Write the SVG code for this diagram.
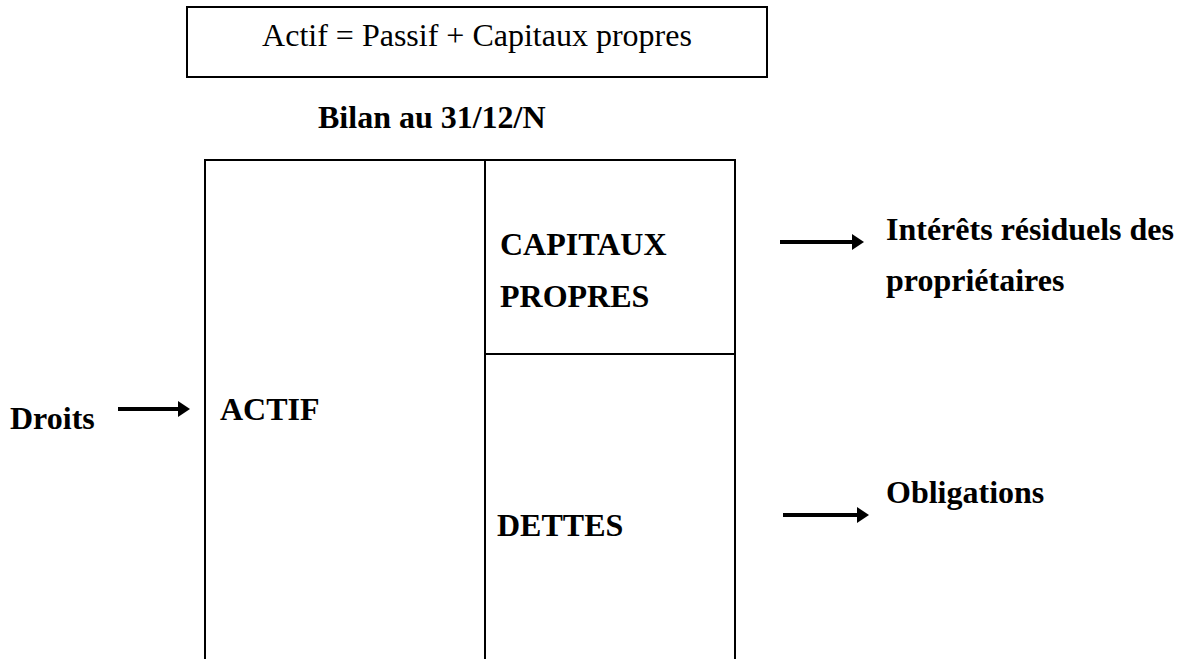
<svg xmlns="http://www.w3.org/2000/svg" width="1182" height="659" viewBox="0 0 1182 659">
<style>
.t{font-family:"Liberation Serif","Times New Roman",serif;font-size:32px;fill:#000}
.b{font-family:"Liberation Serif","Times New Roman",serif;font-weight:bold;font-size:32px;fill:#000}
.ln{stroke:#000;stroke-width:2;fill:none}
.ar{stroke:#000;stroke-width:4;fill:none;marker-end:url(#ah)}
</style>
<defs>
<marker id="ah" markerWidth="4" markerHeight="4" refX="0" refY="2" orient="auto" markerUnits="strokeWidth"><path d="M0,0 L3,2 L0,4 Z" fill="#000"/></marker>
</defs>
<rect width="1182" height="659" fill="#fff"/>
<g id="equation">
<rect class="ln" x="187" y="7" width="580" height="70"/>
<text class="t" x="477" y="46" text-anchor="middle">Actif = Passif + Capitaux propres</text>
</g>
<g id="title"><text class="b" x="318" y="128">Bilan au 31/12/N</text></g>
<g id="table">
<path class="ln" d="M205,659 V160 H735 V659 M485,160 V659 M485,354 H735"/>
</g>
<g id="actif"><text class="b" x="220" y="420">ACTIF</text></g>
<g id="capitaux"><text class="b" x="500" y="255">CAPITAUX</text><text class="b" x="500" y="307">PROPRES</text></g>
<g id="dettes"><text class="b" x="497" y="536">DETTES</text></g>
<g id="droits"><text class="b" x="10" y="429">Droits</text></g>
<g id="interets"><text class="b" x="886" y="240">Intérêts résiduels des</text><text class="b" x="886" y="291">propriétaires</text></g>
<g id="obligations"><text class="b" x="886" y="503">Obligations</text></g>
<g id="connectors">
<line class="ar" x1="118" y1="409" x2="178" y2="409"/>
<line class="ar" x1="780" y1="242" x2="852" y2="242"/>
<line class="ar" x1="783" y1="515" x2="857" y2="515"/>
</g>
</svg>
